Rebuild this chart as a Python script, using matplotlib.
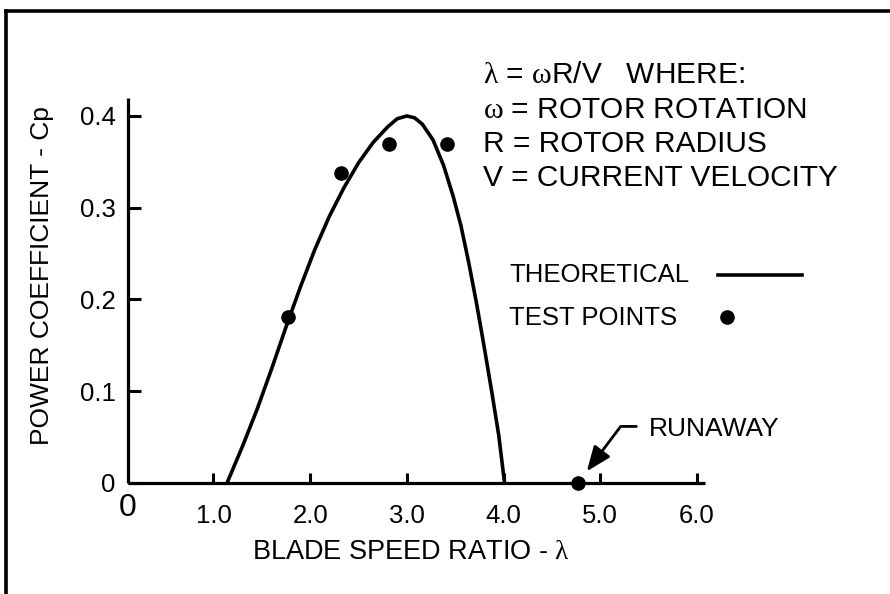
import matplotlib.pyplot as plt
from matplotlib.lines import Line2D

plt.rcParams['font.family'] = ['Liberation Sans', 'DejaVu Sans']
plt.rcParams['mathtext.fontset'] = 'custom'
plt.rcParams['mathtext.rm'] = 'Liberation Serif'
plt.rcParams['mathtext.default'] = 'rm'

# theoretical Cp curve vs blade speed ratio
curve_tsr = [1.14, 1.30, 1.45, 1.60, 1.75, 1.90, 2.05, 2.20, 2.35, 2.50,
             2.65, 2.80, 2.90, 3.00, 3.08, 3.16, 3.27, 3.38, 3.48, 3.56,
             3.64, 3.72, 3.80, 3.88, 3.95, 4.01]
curve_cp = [0.0, 0.040, 0.080, 0.124, 0.170, 0.214, 0.255, 0.291, 0.322, 0.349,
            0.371, 0.388, 0.397, 0.400, 0.398, 0.391, 0.374, 0.346, 0.312, 0.280,
            0.240, 0.196, 0.148, 0.098, 0.052, 0.0]

# measured test points
test_tsr = [1.77, 2.32, 2.81, 3.42]
test_cp = [0.181, 0.338, 0.369, 0.369]

# runaway (zero power) point
runaway_tsr = 4.77
runaway_cp = 0.0

x_ticks = [1.0, 2.0, 3.0, 4.0, 5.0, 6.0]
x_tick_labels = ['1.0', '2.0', '3.0', '4.0', '5.0', '6.0']
y_ticks = [0.0, 0.1, 0.2, 0.3, 0.4]
y_tick_labels = ['0', '0.1', '0.2', '0.3', '0.4']

W, H = 890, 594


def fx(px):
    return px / W


def fy(py):
    return 1 - py / H


def main():
    fig = plt.figure(figsize=(W / 100, H / 100), dpi=100)
    fig.patch.set_facecolor('white')

    ax = fig.add_axes([fx(128), fy(483), (705 - 128) / W, (483 - 98) / H])
    ax.set_xlim(0.116, 6.083)
    ax.set_ylim(0, 0.4196)

    for side in ['top', 'right']:
        ax.spines[side].set_visible(False)
    for side in ['left', 'bottom']:
        ax.spines[side].set_linewidth(2.3)
        ax.spines[side].set_capstyle('butt')

    ax.set_xticks(x_ticks)
    ax.set_xticklabels(x_tick_labels)
    ax.set_yticks(y_ticks)
    ax.set_yticklabels(y_tick_labels)
    ax.tick_params(axis='x', direction='in', length=7.5, width=2.2,
                   labelsize=18.5, pad=15)
    ax.tick_params(axis='y', direction='in', length=9, width=2.2,
                   labelsize=18.5, pad=9)

    ax.plot(curve_tsr, curve_cp, color='black', lw=2.6,
            solid_joinstyle='round', solid_capstyle='butt')
    ax.plot(test_tsr, test_cp, 'o', color='black', ms=9.5, clip_on=False)
    ax.plot([runaway_tsr], [runaway_cp], 'o', color='black', ms=9.5,
            clip_on=False, zorder=5)

    ax.annotate('RUNAWAY', xy=(runaway_tsr, runaway_cp),
                xytext=(51, 39), textcoords='offset points',
                fontsize=19, va='center', ha='left',
                arrowprops=dict(arrowstyle='-|>,head_length=0.8,head_width=0.32',
                                connectionstyle='angle,angleA=0,angleB=53,rad=0',
                                color='black', lw=2.0, mutation_scale=19,
                                shrinkA=7, shrinkB=10.5, relpos=(0, 0.6)))

    # origin label sits apart from the tick labels
    fig.text(fx(128), fy(508), '0', fontsize=23, ha='center', va='center')

    fig.text(fx(42), fy(276), 'POWER COEFFICIENT - Cp', rotation=90,
             fontsize=19, ha='center', va='center')
    fig.text(fx(411), fy(552), r'BLADE SPEED RATIO - $\lambda$',
             fontsize=19.5, ha='center', va='center')

    # definition block
    defs = [r'$\lambda$ = $\omega$R/V   WHERE:',
            r'$\omega$ = ROTOR ROTATION',
            'R = ROTOR RADIUS',
            'V = CURRENT VELOCITY']
    for i, line in enumerate(defs):
        fig.text(fx(483), fy(75 + 34.5 * i), line, fontsize=21.5,
                 ha='left', va='center')

    # hand-made legend
    fig.text(fx(509), fy(275), 'THEORETICAL', fontsize=18.5, ha='left', va='center')
    fig.text(fx(509), fy(318), 'TEST POINTS', fontsize=18.5, ha='left', va='center')
    fig.add_artist(Line2D([fx(718), fx(802)], [fy(275), fy(275)],
                          color='black', lw=2.6))
    fig.add_artist(Line2D([fx(727)], [fy(317)], marker='o', color='black', ms=9.5))

    # border along the top and left edges
    fig.add_artist(Line2D([fx(6), fx(W)], [fy(11), fy(11)], color='black',
                          lw=2.6, solid_capstyle='projecting'))
    fig.add_artist(Line2D([fx(6), fx(6)], [fy(11), fy(H)], color='black',
                          lw=2.6, solid_capstyle='projecting'))

    fig.savefig('out.png', dpi=100)


if __name__ == '__main__':
    main()
